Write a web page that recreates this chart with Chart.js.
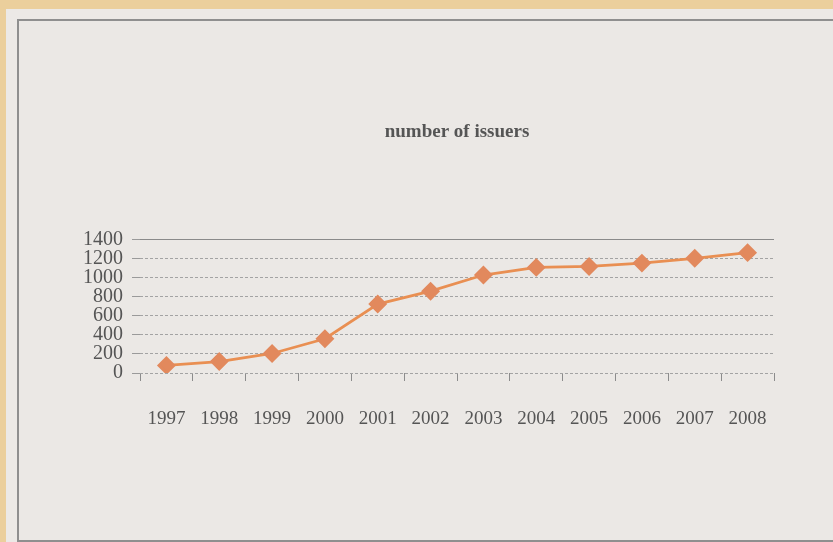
<!DOCTYPE html>
<html>
<head>
<meta charset="utf-8">
<script src="https://cdn.jsdelivr.net/npm/chart.js@4.4.1/dist/chart.umd.min.js"></script>
<style>
  html, body { margin: 0; padding: 0; width: 833px; height: 542px; overflow: hidden; background: #ebcf9c; }
  #panel { position: absolute; left: 6px; top: 9px; right: 0; bottom: 0; background: #ece9e6; }
  #frame { position: absolute; left: 17px; top: 19px; width: 830px; height: 519px;
           border: 2px solid #8f8f8f; border-right: none; background: #ebe8e5; }
  #issuersChart { position: absolute; left: 0; top: 0; }
</style>
</head>
<body>
<div id="panel"></div>
<div id="frame"></div>
<canvas id="issuersChart" width="833" height="542"></canvas>
<script>
const years = ['1997', '1998', '1999', '2000', '2001', '2002', '2003', '2004', '2005', '2006', '2007', '2008'];
const issuers = [80, 120, 205, 360, 725, 860, 1030, 1110, 1120, 1155, 1205, 1265];
const yTicks = [0, 200, 400, 600, 800, 1000, 1200, 1400];

const serif = '"Liberation Serif", "Times New Roman", serif';

const ctx = document.getElementById('issuersChart').getContext('2d');

const issuersChart = new Chart(ctx, {
    type: 'line',
    data: {
        labels: years,
        datasets: [{
            label: 'number of issuers',
            data: issuers,
            borderColor: '#e98f52',
            borderWidth: 2.8,
            pointStyle: 'rectRot',
            pointRadius: 7.5,
            pointBackgroundColor: '#e2895d',
            pointBorderColor: '#e2895d',
            tension: 0
        }]
    },
    options: {
        responsive: false,
        animation: false,
        layout: {
            padding: { left: 0, right: 59, top: 0, bottom: 0 }
        },
        plugins: {
            legend: { display: false },
            tooltip: { enabled: false },
            title: {
                display: true,
                fullSize: false, // centre over the plot, not the whole canvas
                text: 'number of issuers',
                color: '#555555',
                font: { family: serif, size: 19, weight: 'bold' },
                padding: { top: 121, bottom: 96 }
            }
        },
        scales: {
            x: {
                offset: true,
                grid: {
                    offset: true,
                    drawOnChartArea: false,
                    drawTicks: true,
                    tickLength: 8,
                    color: '#8c8c8c'
                },
                border: { display: false },
                ticks: {
                    color: '#555555',
                    font: { family: serif, size: 19 },
                    padding: 27,
                    maxRotation: 0,
                    autoSkip: false
                },
                afterFit: function (scale) { scale.height = 169; }
            },
            y: {
                min: 0,
                max: 1400,
                afterBuildTicks: function (scale) {
                    scale.ticks = yTicks.map(v => ({ value: v }));
                },
                grid: {
                    color: function (c) { return c.tick && c.tick.value === 1400 ? '#8a8a8a' : '#a3a3a3'; },
                    lineWidth: 1,
                    tickLength: 8,
                    tickColor: '#9a9a9a'
                },
                border: {
                    display: false,
                    dash: function (c) { return c.tick && c.tick.value === 1400 ? [] : [3, 2]; }
                },
                ticks: {
                    autoSkip: false,
                    color: '#555555',
                    font: { family: serif, size: 20, lineHeight: 0.95 },
                    padding: 9,
                    callback: function (value) { return String(value); }
                },
                afterFit: function (scale) { scale.width = 140; }
            }
        }
    }
});
</script>
</body>
</html>
